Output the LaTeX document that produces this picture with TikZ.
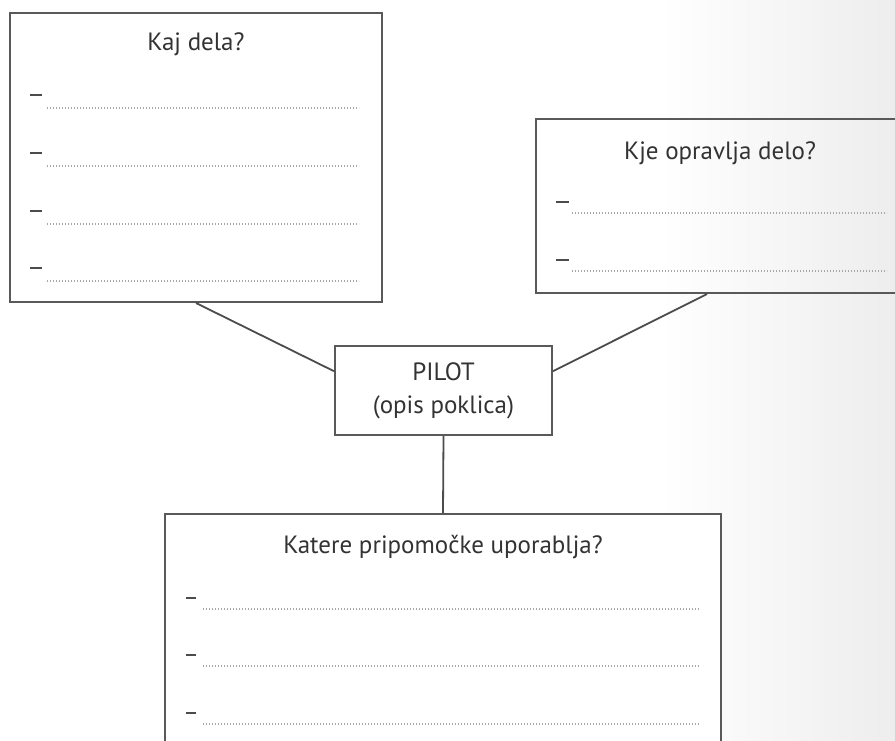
\documentclass[tikz,border=0pt]{standalone}
\usepackage{fontspec}
\setmainfont{PT Sans}
\usetikzlibrary{fit, calc}

\begin{document}
\begin{tikzpicture}[x = 0.5pt, y = -0.5pt,
	box/.style = {draw = black!65, line width = 1pt, inner sep = 0pt},
	heading/.style = {text = black!80, font = \fontsize{12.5}{16.5}\selectfont},
	bullet/.style = {black!70, line width = 1pt},
	writeline/.style = {black!35, line width = 0.6pt, dash pattern = on 0.6pt off 0.9pt},
	connector/.style = {black!70, line width = 0.9pt}]

\useasboundingbox (0, 0) rectangle (895, 740);
\clip (0, 0) rectangle (895, 740);

% Background

\fill [white] (0, 0) rectangle (895, 740);
\shade [left color = white, right color = black!7] (660, 0) rectangle (895, 740);

% Boxes

\node [box, fill = white, fit = {(10, 13) (382, 302)}] (kaj) {};
\node [box, fit = {(536, 119) (900, 293)}] (kje) {};
\node [box, fill = white, fit = {(335, 346) (552, 435)}] (pilot) {};
\node [box, fill = white, fit = {(165, 514) (721, 760)}] (pripomocki) {};

% Headings

\node [heading] (kajtitle) at (196, 44) {Kaj dela?};
\node [heading] (kjetitle) at (720, 153) {Kje opravlja delo?};
\node [heading, align = center] (pilottext) at (pilot.center) {PILOT\\(opis poklica)};
\node [heading] (pripomockititle) at (443, 547) {Katere pripomočke uporablja?};

% Lines to write on

\foreach \y in {95, 153, 211, 268} {
	\draw [bullet] (30, \y) -- (42, \y);
	\draw [writeline] (47, \y + 13) -- (359, \y + 13);
}

\foreach \y in {202, 260} {
	\draw [bullet] (556, \y) -- (569, \y);
	\draw [writeline] (572, \y + 11) -- (887, \y + 11);
}

\foreach \y in {598, 655, 713} {
	\draw [bullet] (186, \y) -- (196, \y);
	\draw [writeline] (203, \y + 11) -- (699, \y + 11);
}

% Connectors

\draw [connector] (kaj.south) -- (pilot.170);
\draw [connector] (pilot.10) -- ($(kje.south west)!0.47!(kje.south east)$);
\draw [connector] (pilot.south) -- (pripomocki.north);

\end{tikzpicture}
\end{document}
